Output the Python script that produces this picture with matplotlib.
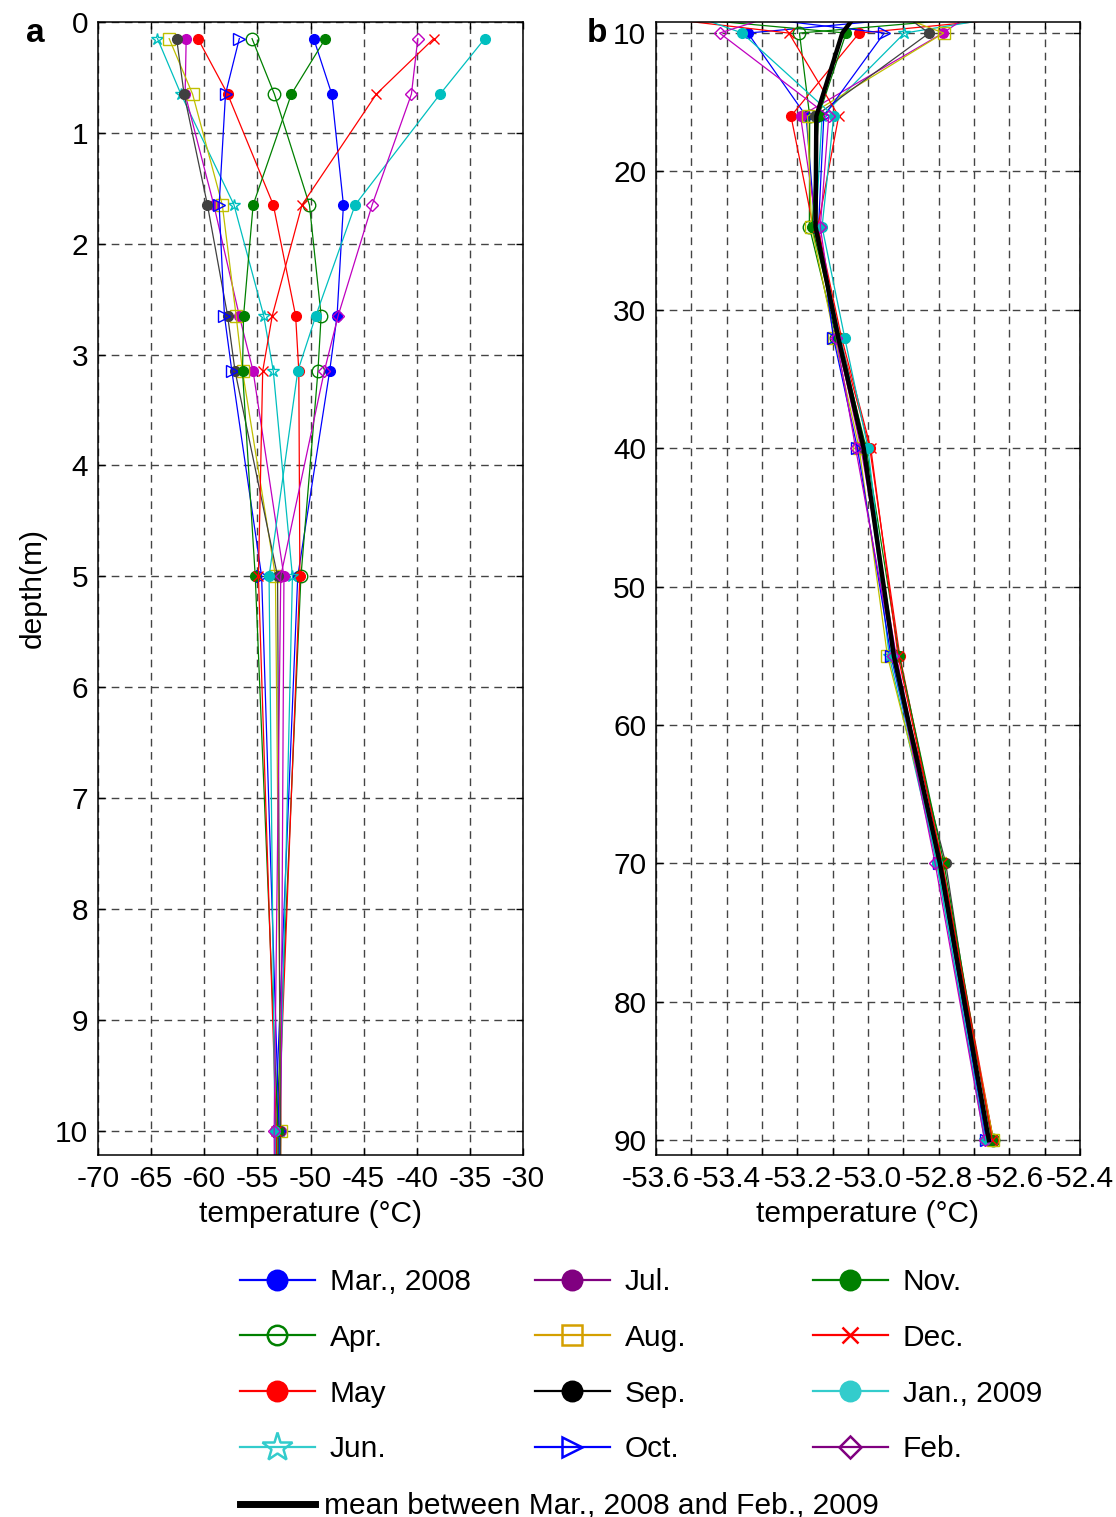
import numpy as np
import matplotlib
matplotlib.use('Agg')
import matplotlib.pyplot as plt
from matplotlib.lines import Line2D
from matplotlib.ticker import MultipleLocator

plt.rcParams['font.family'] = ['Liberation Sans', 'DejaVu Sans']
plt.rcParams['axes.unicode_minus'] = False

# borehole depths (m)
depth = [0.15, 0.65, 1.65, 2.65, 3.15, 5, 10, 16, 24, 32, 40, 55, 70, 90]

# monthly temperature profiles (deg C), one value per depth
mar08 = [-49.7, -48.0, -46.9, -47.5, -48.2, -51.2, -53.340, -53.175, -53.150, -53.085, -53.010, -52.930, -52.795, -52.665]
apr08 = [-55.5, -53.4, -50.1, -49.0, -49.3, -50.9, -53.194, -53.165, -53.166, -53.090, -53.015, -52.925, -52.800, -52.645]
may08 = [-60.6, -57.8, -53.5, -51.4, -51.1, -51.0, -53.025, -53.218, -53.155, -53.080, -52.995, -52.910, -52.790, -52.645]
jun08 = [-64.4, -62.2, -57.2, -54.4, -53.5, -51.7, -52.897, -53.130, -53.148, -53.078, -53.008, -52.940, -52.805, -52.670]
jul08 = [-61.7, -61.8, -59.1, -56.7, -55.4, -52.5, -52.788, -53.191, -53.145, -53.088, -53.020, -52.920, -52.800, -52.665]
aug08 = [-63.3, -61.1, -58.3, -57.0, -56.4, -53.3, -52.786, -53.171, -53.160, -53.095, -53.025, -52.945, -52.797, -52.645]
sep08 = [-62.6, -61.9, -59.7, -57.8, -57.1, -53.1, -52.827, -53.149, -53.152, -53.085, -53.012, -52.930, -52.780, -52.660]
oct08 = [-56.7, -58.0, -58.6, -58.1, -57.4, -54.6, -52.954, -53.125, -53.140, -53.098, -53.030, -52.935, -52.800, -52.665]
nov08 = [-48.6, -51.8, -55.4, -56.3, -56.4, -55.2, -53.062, -53.140, -53.158, -53.082, -53.005, -52.912, -52.785, -52.650]
dec08 = [-38.4, -43.8, -50.8, -53.6, -54.5, -54.9, -53.224, -53.083, -53.142, -53.075, -52.992, -52.915, -52.790, -52.648]
jan09 = [-33.6, -37.8, -45.8, -49.5, -51.2, -53.9, -53.356, -53.097, -53.130, -53.066, -53.000, -52.932, -52.805, -52.668]
feb09 = [-39.9, -40.5, -44.2, -47.4, -48.7, -52.8, -53.420, -53.111, -53.135, -53.090, -53.035, -52.928, -52.810, -52.670]

labels = ['Mar., 2008', 'Apr.', 'May', 'Jun.', 'Jul.', 'Aug.', 'Sep.', 'Oct.',
          'Nov.', 'Dec.', 'Jan., 2009', 'Feb.']
profiles = [mar08, apr08, may08, jun08, jul08, aug08, sep08, oct08, nov08, dec08, jan09, feb09]

# (colour on plot, colour in legend, marker, filled?)
styles = [
    ('#0000ff', '#0000ff', 'o', True),
    ('#008000', '#008000', 'o', False),
    ('#ff0000', '#ff0000', 'o', True),
    ('#00bfbf', '#33cccc', '*', False),
    ('#bf00bf', '#800080', 'o', True),
    ('#bfbf00', '#d4a000', 's', False),
    ('#404040', '#000000', 'o', True),
    ('#0000ff', '#0000ff', '>', False),
    ('#008000', '#008000', 'o', True),
    ('#ff0000', '#ff0000', 'x', True),
    ('#00bfbf', '#33cccc', 'o', True),
    ('#bf00bf', '#800080', 'D', False),
]
msize = {'o': 7, '*': 9, 's': 9, '>': 8, 'x': 7, 'D': 6}
msize_open_o = 9

mean_profile = np.mean(np.array(profiles), axis=0)

fig = plt.figure(figsize=(11.16, 15.17), dpi=100)
ax1 = fig.add_axes([98/1116, 1 - 1155/1517, 425/1116, 1133/1517])
ax2 = fig.add_axes([656/1116, 1 - 1155/1517, 424/1116, 1133/1517])


def draw_profiles(ax):
    for prof, (c, lc, m, filled) in zip(profiles, styles):
        ms = msize[m]
        if m == 'o' and not filled:
            ms = msize_open_o
        ax.plot(prof, depth, '-', color=c, lw=0.9, marker=m, ms=ms,
                mfc=c if filled else 'none', mec=c, mew=1.0)


def style_axes(ax):
    for s in ax.spines.values():
        s.set_linewidth(1.1)
    ax.tick_params(which='both', direction='in', top=True, right=True,
                   length=5, width=1.0, labelsize=21.5, pad=7)
    ax.grid(True, which='both', color='#444444', lw=1.0, ls=(0, (5.5, 4)))


draw_profiles(ax1)
ax1.set_xlim(-70, -30)
ax1.set_ylim(10.22, 0)
ax1.xaxis.set_major_locator(MultipleLocator(5))
ax1.yaxis.set_major_locator(MultipleLocator(1))
style_axes(ax1)
ax1.set_xlabel('temperature (°C)', fontsize=21.5, labelpad=5)
ax1.set_ylabel('depth(m)', fontsize=21.5, labelpad=6)

draw_profiles(ax2)
ax2.plot(mean_profile, depth, '-', color='black', lw=3.2)
ax2.set_xlim(-53.6, -52.4)
ax2.set_ylim(91.07, 9.2)
ax2.xaxis.set_major_locator(MultipleLocator(0.2))
ax2.xaxis.set_minor_locator(MultipleLocator(0.1))
ax2.xaxis.set_major_formatter(matplotlib.ticker.FormatStrFormatter('%.1f'))
ax2.yaxis.set_major_locator(MultipleLocator(10))
style_axes(ax2)
ax2.set_xlabel('temperature (°C)', fontsize=21.5, labelpad=5)

fig.text(35/1116, 1 - 34/1517, 'a', fontsize=24, fontweight='bold', ha='center', va='center')
fig.text(597/1116, 1 - 34/1517, 'b', fontsize=24, fontweight='bold', ha='center', va='center')

# legend: three columns of four months, then the mean line
leg_size = {'o': 14, '*': 22, 's': 15, '>': 14, 'x': 11, 'D': 11}
handles = []
for (c, lc, m, filled) in styles:
    handles.append(Line2D([], [], color=lc, lw=1.6, marker=m, ms=leg_size[m],
                          mfc=lc if filled else 'none', mec=lc, mew=1.8))

col_x = [240/1116, 535/1116, 813/1116]
for k in range(3):
    leg = fig.legend(handles[4*k:4*k + 4], labels[4*k:4*k + 4], loc='upper left',
                     bbox_to_anchor=(col_x[k], 1 - 1268/1517), frameon=False,
                     fontsize=21.5, handlelength=2.5, handletextpad=0.5,
                     labelspacing=0.93, borderpad=0, borderaxespad=0)

mean_handle = Line2D([], [], color='black', lw=5)
fig.legend([mean_handle], ['mean between Mar., 2008 and Feb., 2009'], loc='upper left',
           bbox_to_anchor=(240/1116, 1 - 1492/1517), frameon=False, fontsize=21.5,
           handlelength=2.5, handletextpad=0.3, borderpad=0, borderaxespad=0)

fig.savefig('out.png', dpi=100)
